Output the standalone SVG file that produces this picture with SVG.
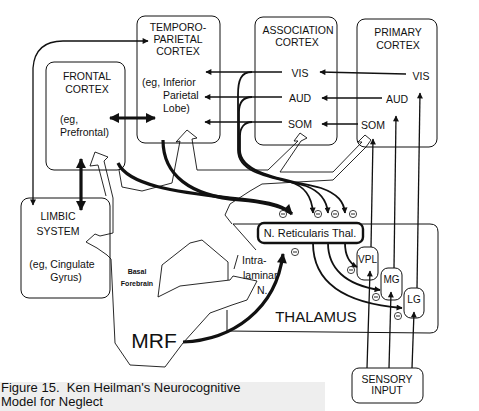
<svg xmlns="http://www.w3.org/2000/svg" xmlns:xlink="http://www.w3.org/1999/xlink" width="479" height="411" viewBox="0 0 479 411">
<style>
text{font-family:"Liberation Sans",Arial,sans-serif;fill:#111}
.box{fill:none;stroke:#111;stroke-width:1}
.ol{fill:none;stroke:#111;stroke-width:0.9;stroke-linejoin:miter}
.t{stroke:#111;stroke-width:1.3;fill:none}
.m{stroke:#111;stroke-width:1.8;fill:none}
.k{stroke:#111;stroke-width:3.2;fill:none}
.l{font-size:10.5px;text-anchor:middle}
.s{font-size:10.5px}
</style>
<defs>
<marker id="ah" viewBox="0 0 10 10" refX="9" refY="5" markerWidth="7" markerHeight="6" markerUnits="userSpaceOnUse" orient="auto-start-reverse"><path d="M0,0L10,5L0,10z" fill="#111"/></marker>
<marker id="ahb" viewBox="0 0 10 10" refX="9" refY="5" markerWidth="11" markerHeight="10" markerUnits="userSpaceOnUse" orient="auto-start-reverse"><path d="M0,0L10,5L0,10z" fill="#111"/></marker>
<g id="minus"><circle r="3.6" fill="#fff" stroke="#111" stroke-width="0.8"/><path d="M-2,0H2" stroke="#111" stroke-width="0.9"/></g>
</defs>
<rect width="479" height="411" fill="#fff"/>

<g id="caption">
<rect x="0" y="382" width="325" height="29" fill="#eeeeee"/>
<text x="1" y="392" font-size="13px" xml:space="preserve">Figure 15.  Ken Heilman's Neurocognitive</text>
<text x="1" y="406" font-size="13px">Model for Neglect</text>
</g>

<g id="brainstem">
<path class="ol" d="M98,165 L90,166 L95,152 L108,157 L104,161 L113,198 L113,233 L100,236 L95,234 L86,242 L97,248 L107,255 L111,259 L115,343 L130,365 L165,367 L183,343 L210,313 L232,305 L247,300 L257,281 L233,276 L230,280 L180,286 L158,297 L162,265 L190,243 L202,240 L228,262 L228,280"/>
<path class="ol" d="M98,165 L106,196"/>
<path class="ol" d="M119,170 L122,187 L142,191 L172,183 L180,141 L176,142 L187,130 L197,138 L192,139 L197,170 L268,170 L298,141 L294,141 L300,133 L307,138 L301,141 L280,172 L333,172 L362,142 L358,142 L365,135 L371,140 L366,147 L333,180 L262,184 L250,191 L230,204 L225,215 L232,224"/>
<path class="ol" d="M238,255 L234,269"/>
<text x="137" y="274" font-size="7px" font-weight="bold" text-anchor="middle">Basal</text>
<text x="137" y="286" font-size="7px" font-weight="bold" text-anchor="middle">Forebrain</text>
<text x="154" y="348" font-size="21px" text-anchor="middle">MRF</text>
</g>

<g id="thalamus">
<path class="box" d="M233,224 H430 Q438,224 438,232 V325 Q438,333 430,333 L227,331 V310"/>
<path class="ol" d="M233,224 L256,250"/>
<text x="316" y="322" font-size="15px" text-anchor="middle">THALAMUS</text>
<text x="242" y="264" font-size="10.5px">Intra-</text>
<text x="243" y="279" font-size="10.5px">laminar</text>
<text x="257" y="294" font-size="10.5px">N.</text>
</g>

<g id="frontal">
<rect class="box" x="46" y="62" width="79" height="108" rx="8"/>
<text class="l" x="87" y="80">FRONTAL</text>
<text class="l" x="87" y="93">CORTEX</text>
<text class="s" x="60" y="123">(eg,</text>
<text class="s" x="60" y="136">Prefrontal)</text>
</g>

<g id="temporoparietal">
<rect class="box" x="137" y="16" width="83" height="127" rx="8"/>
<text class="l" x="178" y="31">TEMPORO-</text>
<text class="l" x="178" y="43">PARIETAL</text>
<text class="l" x="178" y="55">CORTEX</text>
<text class="s" x="142" y="86">(eg, Inferior</text>
<text class="s" x="163" y="99">Parietal</text>
<text class="s" x="163" y="112">Lobe)</text>
</g>

<g id="association">
<rect class="box" x="255" y="17" width="82" height="128" rx="8"/>
<text class="l" x="298" y="34">ASSOCIATION</text>
<text class="l" x="297" y="46">CORTEX</text>
<text class="l" x="300" y="77">VIS</text>
<text class="l" x="300" y="102">AUD</text>
<text class="l" x="300" y="128">SOM</text>
</g>

<g id="primary">
<rect class="box" x="357" y="19" width="80" height="128" rx="8"/>
<text class="l" x="398" y="36">PRIMARY</text>
<text class="l" x="398" y="49">CORTEX</text>
<text class="l" x="421" y="80">VIS</text>
<text class="l" x="397" y="103">AUD</text>
<text class="l" x="373" y="129">SOM</text>
</g>

<g id="limbic">
<rect class="box" x="21" y="198" width="89" height="100" rx="8"/>
<text class="l" x="58" y="220">LIMBIC</text>
<text class="l" x="58" y="235">SYSTEM</text>
<text class="l" x="62" y="268" font-size="11px">(eg, Cingulate</text>
<text class="l" x="66" y="281" font-size="11px">Gyrus)</text>
</g>

<g id="nrt">
<rect x="258" y="223" width="105" height="20" rx="6" fill="#fff" stroke="#111" stroke-width="2.4"/>
<text x="310" y="237" font-size="11px" text-anchor="middle">N. Reticularis Thal.</text>
</g>

<g id="vpl"><rect class="box" x="357" y="247" width="21" height="33" rx="7" fill="#fff"/><text x="367.5" y="263" font-size="10px" text-anchor="middle">VPL</text></g>
<g id="mg"><rect class="box" x="381" y="268" width="21" height="32" rx="7" fill="#fff"/><text x="391.5" y="283" font-size="10px" text-anchor="middle">MG</text></g>
<g id="lg"><rect class="box" x="404" y="288" width="20" height="30" rx="7" fill="#fff"/><text x="414" y="303" font-size="10px" text-anchor="middle">LG</text></g>

<g id="sensory">
<rect class="box" x="352" y="368" width="71" height="35" rx="7"/>
<text x="387" y="383" font-size="10.5px" text-anchor="middle">SENSORY</text>
<text x="387" y="394" font-size="10.5px" text-anchor="middle">INPUT</text>
</g>

<g id="connectors">
<path class="t" d="M33,205 V68 Q35,41 63,41 H148" marker-start="url(#ah)" marker-end="url(#ah)"/>
<path class="k" d="M110,118 H155" marker-start="url(#ahb)" marker-end="url(#ahb)"/>
<path class="k" d="M81,159 V210" marker-start="url(#ahb)" marker-end="url(#ahb)"/>
<path class="t" d="M282,72 H206" marker-end="url(#ah)"/>
<path class="t" d="M282,97 H205" marker-end="url(#ah)"/>
<path class="t" d="M282,122 H205" marker-end="url(#ah)"/>
<path class="t" d="M406,74 L320,72" marker-end="url(#ah)"/>
<path class="t" d="M382,98 H322" marker-end="url(#ah)"/>
<path class="t" d="M358,124 H322" marker-end="url(#ah)"/>
<path class="t" d="M371,247 L373,139" marker-end="url(#ah)"/>
<path class="t" d="M394,268 L396,116" marker-end="url(#ah)"/>
<path class="t" d="M417,288 L420,93" marker-end="url(#ah)"/>
<path class="t" d="M367,368 L370,271" marker-end="url(#ah)"/>
<path class="t" d="M389,368 L391,292" marker-end="url(#ah)"/>
<path class="t" d="M412,368 L414,312" marker-end="url(#ah)"/>
<path class="k" d="M118,163 C128,185 175,192 230,198 C262,201 282,204 292,214" marker-end="url(#ahb)"/>
<path class="k" d="M163,140 C163,175 190,196 240,200 C262,202 278,205 288,211"/>
<path class="m" d="M252,72 C241,72 238,80 238,95 L238,150 C238,170 262,176 290,182 C305,186 312,198 313,213" marker-end="url(#ah)"/>
<path class="m" d="M252,97 C243,97 239,103 239,112 L239,150 C239,172 276,178 306,186 C322,192 327,202 328,213" marker-end="url(#ah)"/>
<path class="m" d="M252,122 C244,122 240,128 240,136 L240,150 C240,175 290,180 321,188 C338,194 344,202 345,213" marker-end="url(#ah)"/>
<path class="k" d="M183,342 C232,340 276,310 283,254" marker-end="url(#ahb)"/>
<path class="m" d="M345,243 C345,255 349,263 357,267" marker-end="url(#ah)"/>
<path class="m" d="M328,243 C328,268 345,285 380,290" marker-end="url(#ah)"/>
<path class="m" d="M313,243 C313,280 340,303 402,308" marker-end="url(#ah)"/>
</g>

<g id="inhibition">
<use xlink:href="#minus" x="283" y="214"/>
<use xlink:href="#minus" x="318" y="214"/>
<use xlink:href="#minus" x="335" y="214"/>
<use xlink:href="#minus" x="353" y="214"/>
<use xlink:href="#minus" x="295" y="252"/>
<use xlink:href="#minus" x="351" y="270"/>
<use xlink:href="#minus" x="376" y="297"/>
<use xlink:href="#minus" x="398" y="316"/>
</g>
</svg>
